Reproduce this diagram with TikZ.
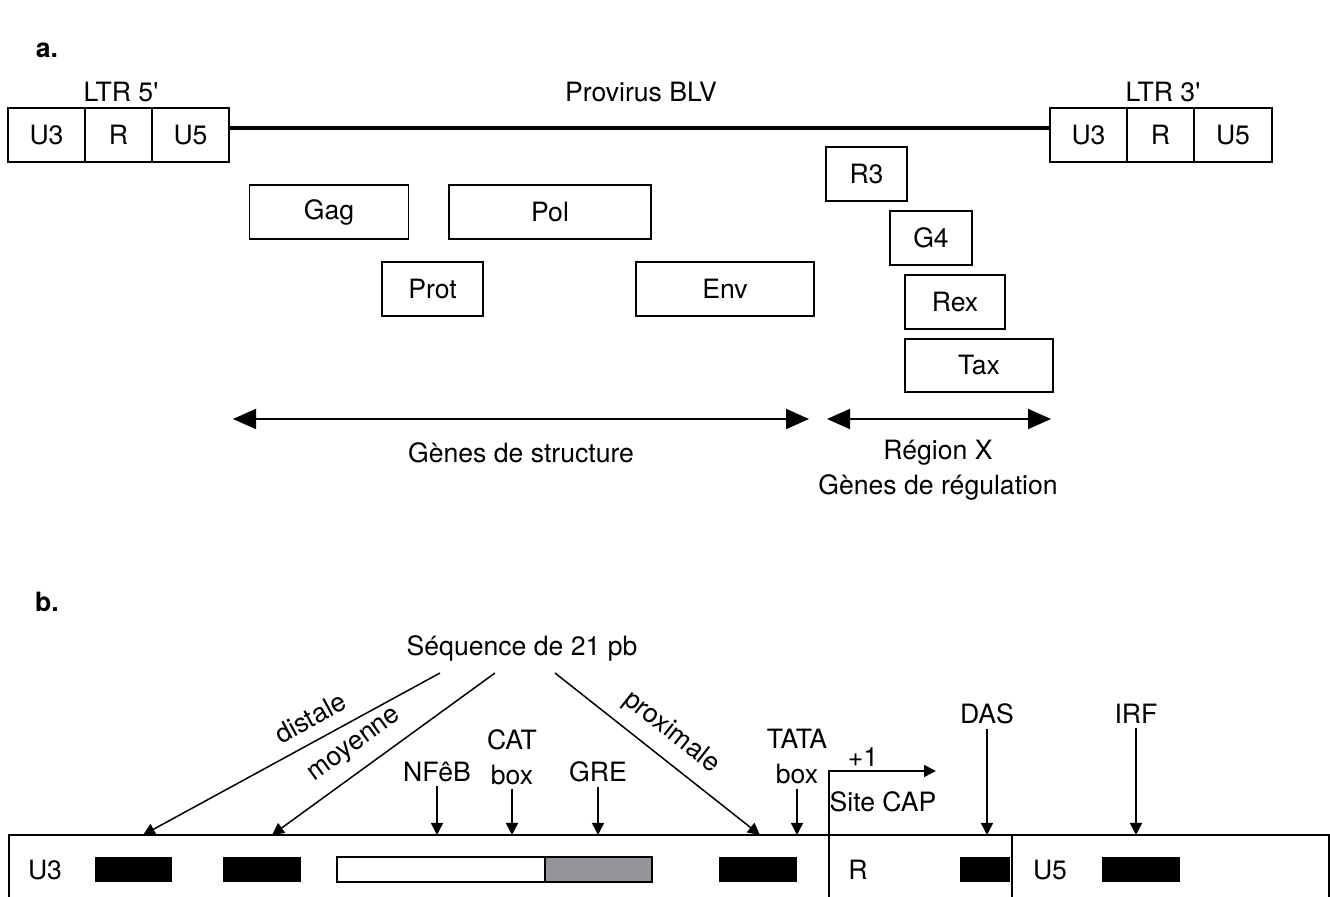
\documentclass[tikz,border=0pt]{standalone}
\usepackage{fontspec}
\setmainfont{TeX Gyre Heros}
\usetikzlibrary{arrows.meta}
\definecolor{grebox}{HTML}{939598}

\begin{document}
\begin{tikzpicture}[
  x=0.5pt,y=-0.5pt,
  font=\fontsize{13.3pt}{17.5pt}\selectfont,
  seg/.style={rectangle,draw,line width=0.8pt,minimum height=27pt,inner sep=0pt},
  bigarrow/.style={line width=1pt,{Triangle[length=11.5pt,width=10pt]}-{Triangle[length=11.5pt,width=10pt]}},
  pointer/.style={line width=0.75pt,-{Triangle[length=6pt,width=6pt]}},
  slopelabel/.style={anchor=south,inner sep=6pt},
  sitelabel/.style={align=center,inner sep=2pt}
]
  \clip (0,0) rectangle (1330,897);

  % a. provirus
  \node[font=\fontsize{13.3pt}{16pt}\selectfont\bfseries] (parta) at (47,50) {a.};
  \node (ltr5) at (121,92) {LTR 5\textquotesingle};
  \node (provirus) at (641,92) {Provirus BLV};
  \node (ltr3) at (1163,92) {LTR 3\textquotesingle};

  \node[seg,minimum width=38.5pt] (u3a) at (46.5,135) {U3};
  \node[seg,minimum width=33.5pt] (ra) at (118.5,135) {R};
  \node[seg,minimum width=38.5pt] (u5a) at (190.5,135) {U5};
  \node[seg,minimum width=38.5pt] (u3b) at (1088.5,135) {U3};
  \node[seg,minimum width=33.5pt] (rb) at (1160.5,135) {R};
  \node[seg,minimum width=39pt] (u5b) at (1233,135) {U5};
  \draw[line width=2.4pt] ([yshift=3.5pt]u5a.east) -- ([yshift=3.5pt]u3b.west);

  \node[seg,minimum width=79.5pt] (gag) at (329,212) {Gag};
  \node[seg,minimum width=101pt] (pol) at (550,212) {Pol};
  \node[seg,minimum width=50.5pt] (prot) at (432.5,289) {Prot};
  \node[seg,minimum width=89pt] (env) at (725,289) {Env};
  \node[seg,minimum width=40.5pt] (r3) at (866.5,174) {R3};
  \node[seg,minimum width=41pt] (g4) at (931,238) {G4};
  \node[seg,minimum width=50pt] (rex) at (955,302) {Rex};
  \node[seg,minimum width=74pt,minimum height=26.5pt] (tax) at (979,365.5) {Tax};

  \coordinate (structL) at (233,419);
  \coordinate (structR) at (809,419);
  \coordinate (regL) at (827,419);
  \coordinate (regR) at (1051,419);
  \draw[bigarrow] (structL) -- (structR);
  \draw[bigarrow] (regL) -- (regR);
  \node (struct) at (521,453) {Gènes de structure};
  \node[align=center] (regul) at (938,470) {Région X\\Gènes de régulation};

  % b. LTR
  \node[font=\fontsize{13.3pt}{16pt}\selectfont\bfseries] (partb) at (47,602) {b.};
  \node (seq) at (522,648) {Séquence de 21 pb};

  \draw[line width=0.8pt] (9,835) rectangle (1329,920);
  \draw[line width=0.8pt] (1012,835) -- (1012,920);
  \coordinate (boxtop) at (9,835);

  \coordinate (distS) at (440,673);
  \coordinate (distE) at (143,835);
  \coordinate (moyS) at (495,673);
  \coordinate (moyE) at (272,835);
  \coordinate (proxS) at (555,673);
  \coordinate (proxE) at (760,835);
  \draw[pointer] (distS) -- node[slopelabel,pos=0.4,rotate=28.6] {distale} (distE);
  \draw[pointer] (moyS) -- node[slopelabel,pos=0.565,rotate=36] {moyenne} (moyE);
  \draw[pointer] (proxS) -- node[slopelabel,pos=0.49,rotate=-38.3] {proximale} (proxE);

  \node[sitelabel] (nfkb) at (437,772) {NFêB};
  \node[sitelabel] (cat) at (512,757) {CAT\\box};
  \node[sitelabel] (gre) at (598,772) {GRE};
  \node[sitelabel] (tata) at (797,757) {TATA\\box};
  \node[sitelabel] (das) at (987,714) {DAS};
  \node[sitelabel] (irf) at (1136,714) {IRF};
  \foreach \s in {nfkb,cat,gre,tata,das,irf}
    \draw[pointer] (\s.south) -- (\s.south |- boxtop);

  \coordinate (capfoot) at (829,920);
  \coordinate (capend) at (936,771);
  \draw[pointer] (capfoot) |- (capend);
  \node (plusone) at (863,757) {+1};
  \node (capsite) at (883,802) {Site CAP};

  \node (u3c) at (45,870) {U3};
  \node (rc) at (858,870) {R};
  \node (u5c) at (1050,870) {U5};
  \fill (95,857) rectangle (172,882);
  \fill (223,857) rectangle (301,882);
  \draw[line width=0.8pt] (337,857) rectangle (545,882);
  \filldraw[fill=grebox,line width=0.8pt] (545,857) rectangle (652,882);
  \fill (719,857) rectangle (797,882);
  \fill (960,857) rectangle (1010,882);
  \fill (1102,857) rectangle (1180,882);
\end{tikzpicture}
\end{document}
